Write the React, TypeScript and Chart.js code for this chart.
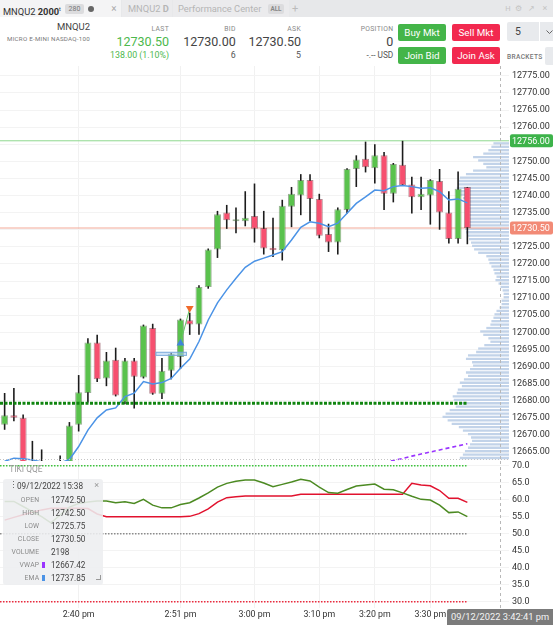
import React, { useEffect, useRef } from 'react';
import { Chart, registerables } from 'chart.js';

Chart.register(...registerables);
Chart.defaults.font.family = 'Roboto, "Noto Sans", sans-serif';

// ---------------- data ----------------
const TIME_TICK_INDEX = [8, 19, 27, 34, 40, 46];
const TIME_TICK_LABELS = ['2:40 pm', '2:51 pm', '3:00 pm', '3:10 pm', '3:20 pm', '3:30 pm'];
const PRICE_TICKS = [12665, 12670, 12675, 12680, 12685, 12690, 12695, 12700, 12705, 12710, 12715, 12720,
  12725, 12730, 12735, 12740, 12745, 12750, 12755, 12760, 12765, 12770, 12775];
const OSC_TICKS = [30, 35, 40, 45, 50, 55, 60, 65, 70];

const OPEN = [12673.0, 12675.75, 12675.0, 12658.0, 12660.0, 12656.0, 12658.0, 12660.0, 12673.0, 12682.25,
  12697.0, 12686.5, 12692.0, 12679.5, 12691.75, 12686.75, 12701.25, 12682.0, 12688.75, 12692.75,
  12703.5, 12702.25, 12713.25, 12724.25, 12735.0, 12732.5, 12732.5, 12734.0, 12730.5, 12724.75,
  12724.0, 12736.75, 12740.0, 12744.5, 12739.0, 12728.75, 12726.25, 12735.75, 12747.75, 12750.75,
  12748.0, 12751.75, 12740.5, 12749.0, 12743.25, 12739.5, 12740.0, 12744.25, 12735.0, 12727.25,
  12742.5];
const HIGH = [12682.25, 12683.75, 12676.0, 12668.25, 12665.75, 12661.0, 12664.0, 12673.75, 12687.5, 12698.25,
  12699.25, 12694.25, 12695.5, 12692.5, 12692.5, 12702.25, 12702.5, 12692.5, 12694.0, 12704.0,
  12705.75, 12713.75, 12724.5, 12735.5, 12737.25, 12736.5, 12741.25, 12743.5, 12735.5, 12733.5,
  12738.75, 12742.5, 12746.25, 12746.25, 12740.5, 12731.75, 12736.5, 12748.0, 12751.75, 12755.75,
  12755.0, 12752.75, 12749.5, 12756.0, 12745.5, 12745.5, 12744.75, 12747.75, 12741.25, 12747.0,
  12742.5];
const LOW = [12671.5, 12674.0, 12655.0, 12652.0, 12650.0, 12651.0, 12652.0, 12657.0, 12671.0, 12679.5,
  12685.5, 12684.25, 12681.25, 12679.0, 12677.75, 12686.5, 12681.75, 12680.5, 12686.25, 12689.25,
  12699.25, 12699.25, 12712.75, 12721.75, 12730.25, 12729.0, 12731.0, 12726.25, 12722.75, 12722.0,
  12721.0, 12730.75, 12734.25, 12732.5, 12727.5, 12723.5, 12722.75, 12734.75, 12742.5, 12746.75,
  12743.5, 12735.75, 12738.0, 12743.0, 12734.75, 12735.75, 12731.5, 12730.0, 12726.0, 12726.0,
  12725.75];
const CLOSE = [12675.75, 12675.0, 12658.0, 12660.0, 12656.0, 12658.0, 12660.0, 12672.75, 12682.5, 12697.0,
  12686.25, 12691.75, 12681.5, 12691.75, 12687.0, 12702.0, 12682.0, 12688.75, 12693.75, 12703.75,
  12702.25, 12713.25, 12724.25, 12734.5, 12732.75, 12733.0, 12733.5, 12730.25, 12724.5, 12724.0,
  12737.0, 12740.5, 12744.5, 12739.0, 12728.25, 12726.25, 12736.0, 12747.75, 12750.5, 12748.25,
  12751.75, 12740.5, 12749.25, 12743.0, 12739.5, 12740.5, 12744.5, 12735.0, 12727.25, 12742.0,
  12730.5];
const EMA = [12662.3, 12663.2, 12663.0, 12662.7, 12662.1, 12661.6, 12661.8, 12662.8, 12666.6, 12671.4,
  12675.0, 12677.3, 12677.9, 12681.2, 12682.2, 12685.6, 12684.9, 12685.3, 12686.5, 12689.5,
  12692.2, 12697.3, 12703.6, 12708.6, 12712.4, 12715.8, 12719.0, 12720.8, 12721.7, 12722.6,
  12723.6, 12727.0, 12730.7, 12732.3, 12731.9, 12730.9, 12731.9, 12734.8, 12737.7, 12739.6,
  12741.6, 12741.4, 12742.6, 12742.9, 12742.6, 12742.1, 12742.3, 12741.1, 12738.7, 12739.0,
  12737.85];
const VWAP_START = 41;
const VWAP = [12661.9, 12662.5, 12663.1, 12663.8, 12664.4, 12665.0, 12665.6, 12666.2, 12666.8, 12667.42];

const PROFILE_LOW_PRICE = 12663;
const PROFILE_VOLUME = [96, 90, 86, 80, 76, 72, 74, 80, 90, 98,
  112, 120, 130, 124, 116, 104, 96, 108, 110, 102,
  100, 92, 96, 88, 80, 84, 76, 70, 72, 84,
  80, 64, 60, 48, 36, 40, 50, 56, 44, 36,
  34, 30, 28, 24, 18, 14, 14, 10, 10, 12,
  16, 20, 26, 24, 28, 30, 34, 38, 40, 44,
  60, 68, 72, 74, 78, 80, 84, 86, 82, 80,
  78, 82, 80, 78, 80, 84, 90, 100, 104, 102,
  100, 98, 96, 84, 70, 44, 50, 60, 70, 50,
  40, 34, 30];

const QQE_FAST = [59.5, 59.5, 58.0, 56.5, 55.0, 53.2, 55.5, 57.8, 58.9, 59.3,
  59.6, 59.6, 59.1, 59.4, 58.9, 60.1, 58.4, 57.6, 57.6, 58.6,
  59.1, 60.5, 62.0, 63.7, 64.8, 65.4, 65.8, 65.8, 64.9, 63.8,
  64.5, 65.2, 66.0, 65.5, 63.7, 62.1, 61.9, 63.0, 64.0, 64.3,
  64.6, 63.1, 62.9, 62.0, 61.0, 60.1, 59.9, 58.4, 56.2, 56.4,
  55.0];
const QQE_SLOW = [54.0, 54.8, 55.6, 56.3, 57.0, 57.5, 57.5, 57.5, 57.5, 57.4,
  55.8, 55.0, 55.0, 55.0, 55.0, 55.0, 55.0, 55.0, 55.0, 55.0,
  55.1, 55.9, 57.3, 59.3, 60.6, 60.9, 61.1, 61.1, 61.1, 61.1,
  61.1, 61.1, 61.6, 61.6, 61.6, 61.6, 61.6, 61.6, 61.6, 61.6,
  61.6, 61.6, 61.6, 61.6, 64.8, 64.3, 64.1, 62.7, 60.4, 60.4,
  59.2];
const QQE_LEVELS = [70, 50, 30];

const SESSION_HIGH = 12756;
const LAST_PRICE = 12730.5;
const SUPPORT_LEVEL = 12679.25;
const BUY_MARK = { index: 19, price: 12696.8 };
const SELL_MARK = { index: 20, price: 12707.0 };
const TRADE_BOX = { from: 16.3, to: 19.7, low: 12693.1, high: 12694.3 };
const CROSSHAIR_INDEX = 53.5;

// view ranges
const X_MIN = -0.5;
const X_MAX = 54.5;
const PRICE_MIN = 12662.37;
const PRICE_MAX = 12777.87;
const OSC_MIN = 28.15;
const OSC_MAX = 71.38;

const GREEN = '#5ac24d';
const RED = '#f6506f';
const AXIS_FONT = { size: 9, family: 'Roboto' };

function timeScale(showLabels: boolean) {
  return {
    type: 'linear', min: X_MIN, max: X_MAX, position: 'bottom', offset: false,
    grid: { color: '#f1f1f1', drawTicks: false, offset: false },
    border: { display: false },
    ticks: {
      display: showLabels, autoSkip: false, maxRotation: 0, padding: 2, color: '#333', font: { size: 8.8, family: 'Roboto' },
      callback: (v: number) => { const k = TIME_TICK_INDEX.indexOf(v); return k < 0 ? '' : TIME_TICK_LABELS[k]; },
    },
    afterBuildTicks: (s: any) => { s.ticks = TIME_TICK_INDEX.map((v) => ({ value: v })); },
    afterFit: (s: any) => { s.height = showLabels ? 17 : 0; s.paddingLeft = 0; s.paddingRight = 0; },
  };
}

function valueScale(min: number, max: number, ticks: number[], digits: number) {
  return {
    type: 'linear', position: 'right', min, max, offset: false,
    grid: { color: '#f3f3f3', drawTicks: false },
    border: { display: false },
    ticks: { padding: 3, color: '#333', font: AXIS_FONT, autoSkip: false, callback: (v: number) => Number(v).toFixed(digits) },
    afterBuildTicks: (s: any) => { s.ticks = ticks.map((v) => ({ value: v })); },
    afterFit: (s: any) => { s.width = 44; s.paddingTop = 0; s.paddingBottom = 0; },
  };
}

function drawCrosshair(chart: any) {
  const { ctx, chartArea, scales } = chart;
  const cx = Math.round(scales.x.getPixelForValue(CROSSHAIR_INDEX)) + 0.5;
  ctx.save();
  ctx.strokeStyle = '#b8b8b8';
  ctx.lineWidth = 1;
  ctx.setLineDash([3, 3]);
  ctx.beginPath();
  ctx.moveTo(cx, chartArea.top);
  ctx.lineTo(cx, chartArea.bottom);
  ctx.stroke();
  ctx.restore();
}

const pricePlugin = {
  id: 'priceDecor',
  afterDatasetsDraw(chart: any) {
    const { ctx, scales } = chart;
    const x0 = scales.x.getPixelForValue(TRADE_BOX.from);
    const x1 = scales.x.getPixelForValue(TRADE_BOX.to);
    const y0 = scales.y.getPixelForValue(TRADE_BOX.high);
    const y1 = scales.y.getPixelForValue(TRADE_BOX.low);
    ctx.save();
    ctx.fillStyle = 'rgba(168,204,240,0.55)';
    ctx.strokeStyle = 'rgba(110,160,215,0.8)';
    ctx.lineWidth = 1;
    ctx.fillRect(x0, y0, x1 - x0, y1 - y0);
    ctx.strokeRect(x0 + 0.5, y0 + 0.5, x1 - x0 - 1, y1 - y0 - 1);
    ctx.restore();
  },
  afterDraw(chart: any) {
    const { ctx, chartArea, scales } = chart;
    drawCrosshair(chart);
    ctx.save();
    // pane separator
    ctx.strokeStyle = '#c4c4c4';
    ctx.lineWidth = 1;
    ctx.setLineDash([1, 2]);
    ctx.beginPath();
    ctx.moveTo(chartArea.left, chartArea.bottom - 1.5);
    ctx.lineTo(chartArea.right, chartArea.bottom - 1.5);
    ctx.stroke();
    ctx.setLineDash([]);
    // price tags
    const tags = [{ price: SESSION_HIGH, bg: '#3db34a' }, { price: LAST_PRICE, bg: '#f28a76' }];
    for (const t of tags) {
      const y = scales.y.getPixelForValue(t.price);
      ctx.fillStyle = t.bg;
      ctx.beginPath();
      ctx.roundRect(chartArea.right + 1, y - 6.5, chart.width - chartArea.right - 1, 13, 2);
      ctx.fill();
      ctx.fillStyle = '#ffffff';
      ctx.font = '9px Roboto';
      ctx.textBaseline = 'middle';
      ctx.textAlign = 'left';
      ctx.fillText(t.price.toFixed(2), chartArea.right + 3, y + 0.5);
    }
    ctx.restore();
  },
};

const oscPlugin = {
  id: 'oscDecor',
  afterDraw(chart: any) { drawCrosshair(chart); },
};

function PriceChart() {
  const ref = useRef<HTMLCanvasElement>(null);
  useEffect(() => {
    const idx = OPEN.map((_, i) => i);
    const up = idx.map((i) => CLOSE[i] >= OPEN[i]);
    const flat = (price: number, from: number, to: number) => [{ x: from, y: price }, { x: to, y: price }];
    const chart = new Chart(ref.current as HTMLCanvasElement, {
      type: 'bar',
      data: {
        datasets: [
          {
            type: 'bar', label: 'profile', indexAxis: 'y', xAxisID: 'xv', yAxisID: 'yv',
            data: PROFILE_VOLUME.map((v, k) => ({ x: v, y: PROFILE_LOW_PRICE + k })),
            backgroundColor: '#c2d3e9', borderWidth: 0, barPercentage: 1, categoryPercentage: 1,
            inflateAmount: 0.3, order: 30,
          },
          { type: 'line', label: 'high', data: flat(SESSION_HIGH, X_MIN, X_MAX), borderColor: '#8fd88f', borderWidth: 1, pointRadius: 0, order: 20 },
          { type: 'line', label: 'last', data: flat(LAST_PRICE, X_MIN, X_MAX), borderColor: '#f2a897', borderWidth: 1, pointRadius: 0, order: 20 },
          {
            type: 'bar', label: 'wick', data: idx.map((i) => ({ x: i, y: [LOW[i], HIGH[i]] })),
            backgroundColor: '#1c1c1c', borderWidth: 0, grouped: false, barThickness: 1.6, maxBarThickness: 1.6,
            inflateAmount: 0, order: 12,
          },
          {
            type: 'bar', label: 'body', data: idx.map((i) => ({ x: i, y: [OPEN[i], CLOSE[i]] })),
            backgroundColor: idx.map((i) => (up[i] ? GREEN : RED)),
            borderColor: idx.map((i) => (up[i] ? 'rgba(70,110,60,0.55)' : 'rgba(120,40,55,0.55)')),
            borderWidth: 1, borderSkipped: false, grouped: false, barThickness: 7, maxBarThickness: 7,
            minBarLength: 2, inflateAmount: 0, order: 11,
          },
          { type: 'line', label: 'ema', data: EMA.map((v, i) => ({ x: i, y: v })), borderColor: '#4b93e6', borderWidth: 1.5, pointRadius: 0, order: 6 },
          {
            type: 'line', label: 'vwap', data: VWAP.map((v, k) => ({ x: VWAP_START + k, y: v })),
            borderColor: '#9a34ff', borderWidth: 1.6, borderDash: [4, 3], pointRadius: 0, order: 6,
          },
          {
            type: 'line', label: 'level', data: flat(SUPPORT_LEVEL, X_MIN, OPEN.length - 1),
            borderColor: '#0f840f', borderWidth: 3, borderDash: [3, 1.5], pointRadius: 0, order: 5,
          },
          {
            type: 'line', label: 'trade', data: [{ x: BUY_MARK.index, y: BUY_MARK.price }, { x: SELL_MARK.index, y: SELL_MARK.price }],
            borderColor: '#62c462', borderWidth: 1, pointRadius: 0, order: 4,
          },
          {
            type: 'line', label: 'buy', showLine: false, data: [{ x: BUY_MARK.index, y: BUY_MARK.price }],
            pointStyle: 'triangle', pointRadius: 4.5, pointBackgroundColor: '#3f86d8', pointBorderWidth: 0, order: 3,
          },
          {
            type: 'line', label: 'sell', showLine: false, data: [{ x: SELL_MARK.index, y: SELL_MARK.price }],
            pointStyle: 'triangle', pointRotation: 180, pointRadius: 4.5, pointBackgroundColor: '#f06a2a', pointBorderWidth: 0, order: 3,
          },
        ],
      },
      options: {
        responsive: false, animation: false, events: [],
        layout: { padding: 0, autoPadding: false },
        plugins: { legend: { display: false }, tooltip: { enabled: false } },
        scales: {
          x: timeScale(false),
          y: valueScale(PRICE_MIN, PRICE_MAX, PRICE_TICKS, 2),
          xv: { type: 'linear', axis: 'x', display: false, reverse: true, min: 0, max: 1000, offset: false },
          yv: { type: 'linear', axis: 'y', display: false, min: PRICE_MIN, max: PRICE_MAX, offset: false },
        },
      } as any,
      plugins: [pricePlugin],
    } as any);
    return () => chart.destroy();
  }, []);
  return <canvas ref={ref} width={553} height={395} style={{ position: 'absolute', left: 0, top: 66, width: 553, height: 395 }} />;
}

function OscChart() {
  const ref = useRef<HTMLCanvasElement>(null);
  useEffect(() => {
    const levelColors = ['#3cc43c', '#8c8c8c', '#ec2a3e'];
    const last = QQE_FAST.length - 1;
    const chart = new Chart(ref.current as HTMLCanvasElement, {
      type: 'line',
      data: {
        datasets: [
          ...QQE_LEVELS.map((lv, k) => ({
            label: 'lvl' + lv, data: [{ x: X_MIN, y: lv }, { x: last, y: lv }],
            borderColor: levelColors[k], borderWidth: 1.5, borderDash: [1.5, 1.5], pointRadius: 0, order: 10,
          })),
          { label: 'slow', data: QQE_SLOW.map((v, i) => ({ x: i, y: v })), borderColor: '#e1122e', borderWidth: 1.5, pointRadius: 0, order: 3 },
          { label: 'fast', data: QQE_FAST.map((v, i) => ({ x: i, y: v })), borderColor: '#4c8a22', borderWidth: 1.5, pointRadius: 0, order: 2 },
        ],
      },
      options: {
        responsive: false, animation: false, events: [],
        layout: { padding: 0, autoPadding: false },
        plugins: { legend: { display: false }, tooltip: { enabled: false } },
        scales: {
          x: timeScale(true),
          y: valueScale(OSC_MIN, OSC_MAX, OSC_TICKS, 1),
        },
      } as any,
      plugins: [oscPlugin],
    } as any);
    return () => chart.destroy();
  }, []);
  return <canvas ref={ref} width={553} height={164} style={{ position: 'absolute', left: 0, top: 461, width: 553, height: 164 }} />;
}

function txt(x: number, y: number, size: number, color: string, align: 'left' | 'right' | 'center' = 'left', extra: any = {}) {
  const lh = Math.round(size * 1.25);
  const base: any = { position: 'absolute', top: y - lh / 2, lineHeight: lh + 'px', fontSize: size, color, whiteSpace: 'nowrap' };
  if (align === 'right') base.right = 553 - x;
  else if (align === 'center') { base.left = x; base.transform = 'translateX(-50%)'; }
  else base.left = x;
  return { ...base, ...extra };
}

function Button({ x, y, label, bg }: { x: number; y: number; label: string; bg: string }) {
  return (
    <div style={{ position: 'absolute', left: x, top: y, width: 48, height: 17, background: bg, borderRadius: 2, color: '#fff', fontSize: 9.8, lineHeight: '17px', textAlign: 'center' }}>{label}</div>
  );
}

function Header() {
  return (
    <>
      {/* tab bar */}
      <div style={{ position: 'absolute', left: 0, top: 0, width: 553, height: 17, background: '#e7e8ea' }} />
      <div style={{ position: 'absolute', left: 0, top: 0, width: 121, height: 17, background: '#f4f4f5' }} />
      <div style={{ position: 'absolute', left: 122, top: 0, width: 50, height: 17, background: '#ebebed' }} />
      <div style={{ position: 'absolute', left: 173, top: 0, width: 116, height: 17, background: '#ebebed' }} />
      <span style={txt(3, 8.5, 9.3, '#333')}>MNQU2 <b>2000</b><sup style={{ fontSize: 5.5 }}>t</sup></span>
      <div style={{ position: 'absolute', left: 65, top: 4, width: 19, height: 10, background: '#dcdcde', borderRadius: 2, fontSize: 7, color: '#777', lineHeight: '10px', textAlign: 'center' }}>280</div>
      <div style={{ position: 'absolute', left: 88, top: 5.5, width: 6, height: 6, borderRadius: 3, background: '#666' }} />
      <span style={txt(114, 8.5, 10, '#aaa', 'center')}>×</span>
      <span style={txt(128, 8.5, 9.3, '#b5b5b5')}>MNQU2 <b>D</b></span>
      <span style={txt(178, 8.5, 9.3, '#b5b5b5')}>Performance Center</span>
      <div style={{ position: 'absolute', left: 268, top: 4, width: 16, height: 10, background: '#dcdcde', borderRadius: 2, fontSize: 6.3, fontWeight: 700, color: '#888', lineHeight: '10px', textAlign: 'center' }}>ALL</div>
      <span style={txt(295, 8.5, 11, '#bbb', 'center')}>+</span>
      <span style={txt(508, 8.5, 7.5, '#c4c4c4', 'center')}>H</span>
      <span style={txt(518.5, 8.5, 8, '#c4c4c4', 'center')}>⚙</span>
      <span style={txt(531, 8.5, 8, '#c4c4c4', 'center')}>↗</span>
      <span style={txt(545, 8.5, 9, '#c4c4c4', 'center')}>×</span>

      {/* quote row */}
      <span style={txt(90, 26.5, 9.5, '#444', 'right')}>MNQU2</span>
      <span style={txt(90, 38.5, 6.2, '#777', 'right', { letterSpacing: 0.25 })}>MICRO E-MINI NASDAQ-100</span>

      <span style={txt(169, 29, 6.8, '#888', 'right', { letterSpacing: 0.3 })}>LAST</span>
      <span style={txt(169, 41.5, 12.5, '#4cb84c', 'right')}>12730.50</span>
      <span style={txt(169, 55, 8.8, '#4cb84c', 'right')}>138.00 (1.10%)</span>

      <span style={txt(235.7, 29, 6.8, '#888', 'right', { letterSpacing: 0.3 })}>BID</span>
      <span style={txt(235.7, 41.5, 12.5, '#444', 'right')}>12730.00</span>
      <span style={txt(235.7, 55, 8.8, '#555', 'right')}>6</span>

      <span style={txt(301, 29, 6.8, '#888', 'right', { letterSpacing: 0.3 })}>ASK</span>
      <span style={txt(301, 41.5, 12.5, '#444', 'right')}>12730.50</span>
      <span style={txt(301, 55, 8.8, '#555', 'right')}>5</span>

      <span style={txt(393.3, 29, 6.8, '#888', 'right', { letterSpacing: 0.3 })}>POSITION</span>
      <span style={txt(393.3, 41.5, 12.5, '#444', 'right')}>0</span>
      <span style={txt(393.3, 55, 8.3, '#555', 'right')}>-.-- USD</span>

      <Button x={398} y={24} label="Buy Mkt" bg="#44b549" />
      <Button x={452} y={24} label="Sell Mkt" bg="#f2294f" />
      <Button x={398} y={47} label="Join Bid" bg="#44b549" />
      <Button x={452} y={47} label="Join Ask" bg="#f2294f" />

      <div style={{ position: 'absolute', left: 507, top: 22, width: 32, height: 19, background: '#e8eaed', borderRadius: '2px 0 0 2px' }} />
      <div style={{ position: 'absolute', left: 540, top: 22, width: 13, height: 19, background: '#e8eaed' }} />
      <span style={txt(515, 31.5, 10.5, '#444')}>5</span>
      <svg style={{ position: 'absolute', left: 546, top: 30 }} width="7" height="5"><polyline points="0.5,0.5 3.5,3.5 6.5,0.5" fill="none" stroke="#666" strokeWidth="1" /></svg>
      <span style={txt(507, 57, 6.6, '#777', 'left', { fontWeight: 500, letterSpacing: 0.35 })}>BRACKETS</span>
      <div style={{ position: 'absolute', left: 545, top: 47, width: 8, height: 18, background: '#e8eaed', borderRadius: '2px 0 0 2px' }} />
    </>
  );
}

function Overlays() {
  const rows = [
    ['OPEN', '12742.50', 21.3, ''],
    ['HIGH', '12742.50', 34, ''],
    ['LOW', '12725.75', 47, ''],
    ['CLOSE', '12730.50', 60.3, ''],
    ['VOLUME', '2198', 73.3, ''],
    ['VWAP', '12667.42', 86.3, '#9a34ff'],
    ['EMA', '12737.85', 99, '#4b93e6'],
  ] as [string, string, number, string][];
  const rel = (x: number, y: number, size: number, color: string, align: any = 'left', extra: any = {}) => {
    const s = txt(x, y, size, color, align, extra);
    if (s.right !== undefined) s.right = 100 - x;
    return s;
  };
  return (
    <>
      <span style={txt(9.3, 469, 8.4, '#9a9a9a')}>TIKI QQE</span>
      <div style={{ position: 'absolute', left: 3, top: 479, width: 100, height: 106, background: 'rgba(237,238,240,0.88)', borderRadius: 3 }}>
        <span style={rel(6, 6.5, 9, '#666')}>⋮</span>
        <span style={rel(14, 6.5, 8.2, '#444')}>09/12/2022 15:38</span>
        <span style={rel(93.7, 6.5, 9, '#999', 'center')}>×</span>
        {rows.map(([label, value, y, color]) => (
          <React.Fragment key={label}>
            <span style={rel(36.3, y, 6.8, '#8a8a8a', 'right', { letterSpacing: 0.2 })}>{label}</span>
            {color ? <div style={{ position: 'absolute', left: 38.5, top: y - 3, width: 3, height: 6, background: color }} /> : null}
            <span style={rel(48, y, 8.2, '#444')}>{value}</span>
          </React.Fragment>
        ))}
        <div style={{ position: 'absolute', left: 93, top: 96, width: 4, height: 4, borderRight: '1px solid #999', borderBottom: '1px solid #999' }} />
      </div>
      <div style={{ position: 'absolute', left: 447, top: 609, width: 106, height: 16, background: '#7b7b7b', borderRadius: '2px 0 0 0', color: '#f4f4f4', fontSize: 9.3, lineHeight: '16px', textAlign: 'center' }}>09/12/2022 3:42:41 pm</div>
    </>
  );
}

export default function App() {
  return (
    <div style={{ position: 'relative', width: 553, height: 625, overflow: 'hidden', background: '#fff', fontFamily: 'Roboto, "Noto Sans", sans-serif' }}>
      <style>{'html,body{margin:0;padding:0;background:#fff;}'}</style>
      <Header />
      <PriceChart />
      <OscChart />
      <Overlays />
    </div>
  );
}
